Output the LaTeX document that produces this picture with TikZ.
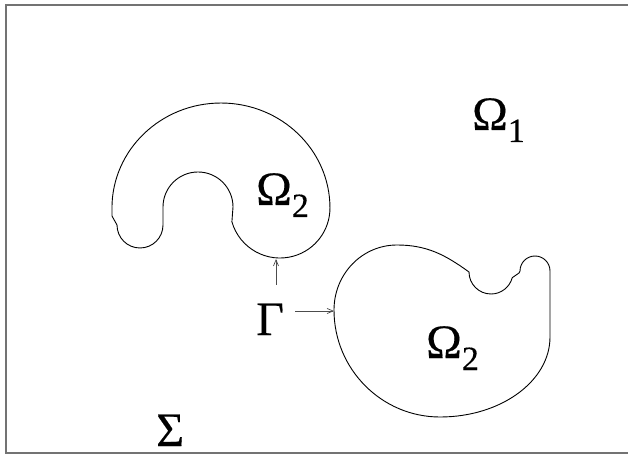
\documentclass[tikz,border=0pt]{standalone}
\usepackage{fontspec}
\setmainfont{Liberation Serif}
\newfontfamily\greekf[FakeBold=0.3]{Liberation Serif}
\usetikzlibrary{arrows.meta}
\tikzset{
  region/.style={draw=black, line width=0.9pt},
  frameline/.style={draw=black!55, line width=1.6pt},
  pointer/.style={draw=black!70, line width=0.7pt, -{Straight Barb[length=6pt,width=5pt]}},
  lab/.style={anchor=base west, inner sep=0pt, font=\greekf\fontsize{48}{48}\selectfont}
}
\newcommand{\subsc}[1]{{\fontsize{34}{34}\selectfont\raisebox{-12pt}{#1}}}
\begin{document}
\begin{tikzpicture}[x=1pt,y=1pt]
\useasboundingbox (0,0) rectangle (628,455);
% frame (open on the right)
\draw[frameline] (628,450) -- (6,450) -- (6,2) -- (628,2);
% upper region
\draw[region] (231.9,233.2) arc[start angle=196, end angle=360, radius=50]
  arc[start angle=0, end angle=180, x radius=109, y radius=105]
  -- (112,239) -- (117,230)
  arc[start angle=180, end angle=360, radius=23]
  -- (163,248)
  arc[start angle=180, end angle=0, radius=35]
  -- cycle;
% lower region
\draw[region] (334,145) .. controls (334,181) and (362,210) .. (397,210)
  .. controls (427,210) and (445.5,200) .. (469,183)
  arc[start angle=180, end angle=345, radius=22]
  -- (519,182) -- (520,184)
  arc[start angle=180, end angle=0, radius=15]
  -- (550,118)
  .. controls (550,74) and (501,38) .. (440,38)
  .. controls (381.5,38) and (334,86) .. (334,145) -- cycle;
% labels
\node[lab] (om1) at (472,325) {Ω\subsc{1}};
\node[lab] (om2a) at (256,250) {Ω\subsc{2}};
\node[lab] (om2b) at (426,97) {Ω\subsc{2}};
\node[lab] (gam) at (256,120) {Γ};
\node[lab] (sig) at (156,9) {Σ};
% pointers
\coordinate (p1s) at (276,170);
\coordinate (p1e) at (276,196);
\coordinate (p2s) at (295,144);
\coordinate (p2e) at (334,144);
\draw[pointer] (p1s) -- (p1e);
\draw[pointer] (p2s) -- (p2e);
\end{tikzpicture}
\end{document}
